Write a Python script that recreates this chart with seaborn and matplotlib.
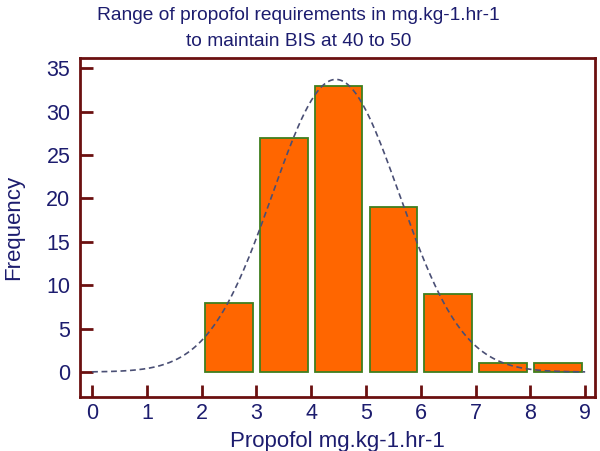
import numpy as np
import pandas as pd
import matplotlib
matplotlib.use("Agg")
import matplotlib.pyplot as plt
import seaborn as sns

# Data
bin_left = [2, 3, 4, 5, 6, 7, 8]
counts = [8, 27, 33, 19, 9, 1, 1]
fit_mean = 4.45
fit_sd = 1.16
x_ticks = [0, 1, 2, 3, 4, 5, 6, 7, 8, 9]
y_ticks = [0, 5, 10, 15, 20, 25, 30, 35]

title = "Range of propofol requirements in mg.kg-1.hr-1\nto maintain BIS at 40 to 50"
xlabel = "Propofol mg.kg-1.hr-1"
ylabel = "Frequency"

sns.set_style("white")
plt.rcParams['font.family'] = ['Liberation Sans', 'DejaVu Sans']

navy = "#1c1c6e"
frame = "#6b1010"

fig = plt.figure(figsize=(6, 4.51), dpi=100)
ax = fig.add_axes([0.1333, 0.1197, 0.8584, 0.7513])

df = pd.DataFrame({"mid": np.array(bin_left) + 0.5, "count": counts})
edges = list(bin_left) + [bin_left[-1] + 1]
sns.histplot(data=df, x="mid", weights="count", bins=edges, shrink=0.87,
             color="#ff6600", edgecolor="#3f7f1f", linewidth=1.3, alpha=1, ax=ax)

n = sum(counts)
xs = np.linspace(0, 9, 300)
ys = n * 1.0 / (fit_sd * np.sqrt(2 * np.pi)) * np.exp(-0.5 * ((xs - fit_mean) / fit_sd) ** 2)
sns.lineplot(x=xs, y=ys, ax=ax, color="#4a4f75", linestyle=(0, (3.5, 2.2)), linewidth=1.2)

ax.set_xlim(-0.22, 9.18)
ax.set_ylim(-2.88, 36.15)
ax.set_xticks(x_ticks)
ax.set_yticks(y_ticks)
ax.tick_params(axis='both', direction='in', length=9, width=2, color=frame,
               labelsize=15.5, labelcolor=navy, bottom=True, left=True,
               top=False, right=False)
ax.tick_params(axis='x', pad=4)
ax.tick_params(axis='y', pad=7)
for s in ax.spines.values():
    s.set_color(frame)
    s.set_linewidth(2)
    s.set_visible(True)

fig.text(0.497, 0.984, title, color=navy, fontsize=13.8, ha='center', va='top',
         linespacing=1.7)
ax.set_xlabel(xlabel, color=navy, fontsize=16, labelpad=5)
ax.set_ylabel(ylabel, color=navy, fontsize=16, labelpad=16)

fig.savefig("out.png", dpi=100)
